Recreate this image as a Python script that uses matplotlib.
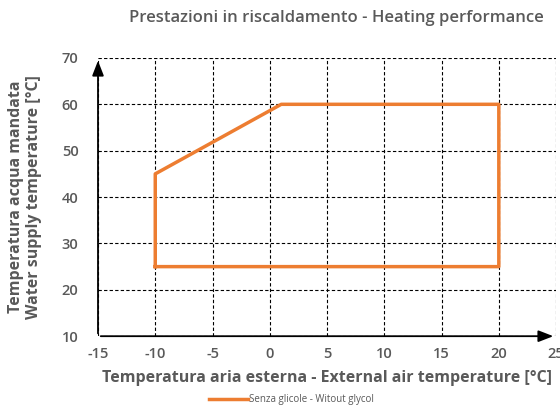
import matplotlib
matplotlib.use("Agg")
import matplotlib.pyplot as plt

# envelope corners (outdoor air temp, water supply temp)
env_x = [-10, -10, 1, 20, 20, -10]
env_y = [25, 45, 60, 60, 25, 25]
x_ticks = [-15, -10, -5, 0, 5, 10, 15, 20, 25]
y_ticks = [10, 20, 30, 40, 50, 60, 70]

plt.rcParams['font.family'] = ['Open Sans', 'DejaVu Sans']
plt.rcParams['axes.unicode_minus'] = False
grey = '#595959'

fig = plt.figure(figsize=(5.6, 4.08), dpi=100)
ax = fig.add_axes([0.175, 0.176, 0.818, 0.682])

ax.set_xlim(-15, 25)
ax.set_ylim(10, 70)
ax.set_xticks(x_ticks)
ax.set_yticks(y_ticks)
for s in ax.spines.values():
    s.set_visible(False)
ax.grid(True, color='black', linestyle=(0, (3, 2)), linewidth=0.8)
ax.tick_params(length=0, labelsize=10.5, colors=grey)
ax.tick_params(axis='y', pad=14)
ax.tick_params(axis='x', pad=8)
for lab in ax.get_xticklabels() + ax.get_yticklabels():
    lab.set_fontweight('semibold')

# axes with arrow heads
ax.annotate('', xy=(25, 10), xytext=(-15, 10), annotation_clip=False,
            arrowprops=dict(arrowstyle='-|>,head_length=0.9,head_width=0.35', color='black', lw=1.3))
ax.annotate('', xy=(-15, 70), xytext=(-15, 10), annotation_clip=False,
            arrowprops=dict(arrowstyle='-|>,head_length=0.9,head_width=0.35', color='black', lw=1.3))

ax.plot(env_x, env_y, color='#ED7D31', linewidth=2.5, label='Senza glicole - Witout glycol',
        clip_on=False, zorder=5)

ax.set_xlabel('Temperatura aria esterna - External air temperature [°C]', fontsize=11.5,
              fontweight='bold', color=grey, labelpad=6)
ax.set_ylabel('Temperatura acqua mandata\nWater supply temperature [°C]', fontsize=11.5,
              fontweight='bold', color=grey, labelpad=14)
fig.text(0.6, 0.955, 'Prestazioni in riscaldamento - Heating performance', ha='center',
         va='center', fontsize=12, fontweight='semibold', color=grey)

fig.legend(loc='center', bbox_to_anchor=(0.52, 0.02), frameon=False, fontsize=7,
           handlelength=4, handletextpad=0.1, labelcolor=grey)

fig.savefig('out.png', dpi=100)
